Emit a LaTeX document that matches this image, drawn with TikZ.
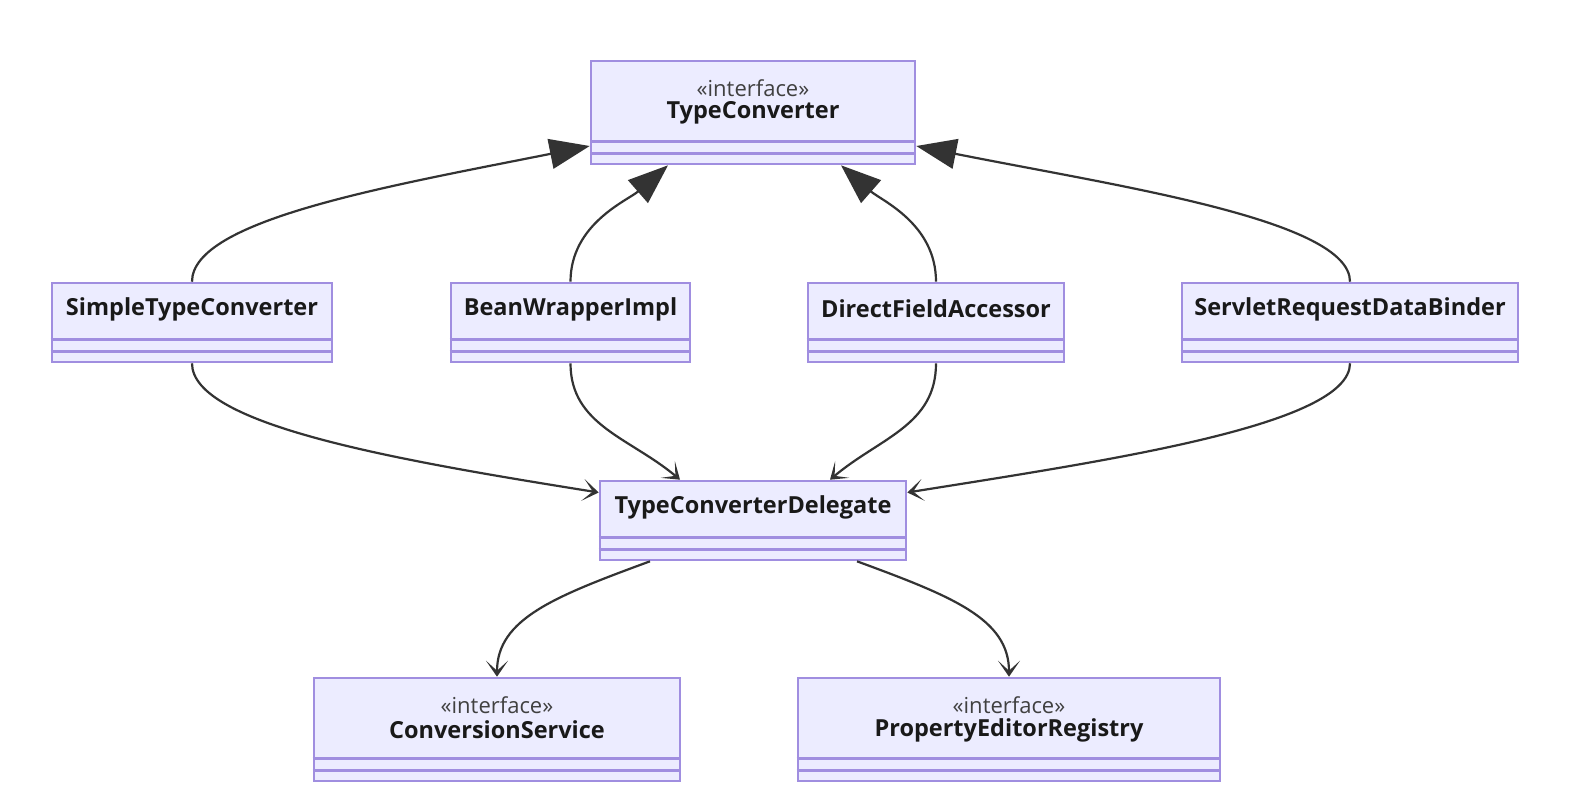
\documentclass[tikz,border=0pt]{standalone}
\usepackage{fontspec}
\setmainfont{Open Sans}
\usetikzlibrary{arrows.meta,calc}
\definecolor{clsfill}{HTML}{ECECFF}
\definecolor{clsdraw}{HTML}{A08EE0}
\definecolor{edge}{HTML}{333333}
\tikzset{
  clsbox/.style={draw=clsdraw,fill=clsfill,line width=2.6pt,rectangle,inner sep=0pt},
  sepline/.style={draw=clsdraw,line width=2.6pt},
  titletext/.style={font=\fontsize{23.5}{26}\selectfont\bfseries,text=black!90,inner sep=0pt},
  stereotext/.style={font=\fontsize{22}{25}\selectfont,text=black!75,inner sep=0pt},
  inherit/.style={draw=edge,line width=2.2pt,-{Triangle[length=40pt,width=30pt]}},
  depend/.style={draw=edge,line width=2.2pt,-{Stealth[length=16pt,width=22pt,inset=10pt]}},
}
% \umlcls{name}{cx}{top}{width}{height}{stereo}{title}{titley}
\newcommand{\umlcls}[8]{%
  \node[clsbox,minimum width=#4pt,minimum height=#5pt] (#1) at (#2,{#3+#5/2}) {};
  \draw[sepline] ($(#1.south west)+(0,-24)$) -- ($(#1.south east)+(0,-24)$);
  \draw[sepline] ($(#1.south west)+(0,-12)$) -- ($(#1.south east)+(0,-12)$);
  \node[titletext] (#1-t) at (#2,#8) {#7};
  \if\relax\detokenize{#6}\relax\else
    \node[stereotext] (#1-s) at (#2,{#8-25}) {#6};
  \fi
}
\begin{document}
\begin{tikzpicture}[x=1pt,y=-1pt]
\useasboundingbox[fill=white] (0,0) rectangle (1574,798);
\umlcls{tc}{753}{61}{324}{103}{«interface»}{TypeConverter}{113}
\umlcls{stc}{192}{283}{280}{79}{}{SimpleTypeConverter}{309}
\umlcls{bwi}{570.5}{283}{239}{79}{}{BeanWrapperImpl}{309}
\umlcls{dfa}{936}{283}{256}{79}{}{DirectFieldAccessor}{309}
\umlcls{srdb}{1350}{283}{336}{79}{}{ServletRequestDataBinder}{309}
\umlcls{tcd}{753}{481}{306}{79}{}{TypeConverterDelegate}{507}
\umlcls{cs}{497}{678}{366}{103}{«interface»}{ConversionService}{730}
\umlcls{per}{1009}{678}{422}{103}{«interface»}{PropertyEditorRegistry}{730}
% inheritance
\draw[inherit] (stc.north) .. controls +(0,-62) and +(-200,40) .. ([yshift=-33.5pt]tc.west);
\draw[inherit] (bwi.north) .. controls +(0,-58) and +(-40,35) .. ([xshift=-85pt]tc.south);
\draw[inherit] (dfa.north) .. controls +(0,-58) and +(40,35) .. ([xshift=88pt]tc.south);
\draw[inherit] (srdb.north) .. controls +(0,-62) and +(200,40) .. ([yshift=-33.5pt]tc.east);
% dependencies
\draw[depend] (stc.south) .. controls +(0,62) and +(-200,-32) .. ([yshift=28pt]tcd.west);
\draw[depend] (bwi.south) .. controls +(0,62) and +(-50,-42) .. ([xshift=-73pt]tcd.north);
\draw[depend] (dfa.south) .. controls +(0,62) and +(50,-42) .. ([xshift=77pt]tcd.north);
\draw[depend] (srdb.south) .. controls +(0,62) and +(200,-32) .. ([yshift=28pt]tcd.east);
\draw[depend] ([xshift=-103pt]tcd.south) .. controls +(-95,35) and +(0,-58) .. (cs.north);
\draw[depend] ([xshift=104pt]tcd.south) .. controls +(95,35) and +(0,-58) .. (per.north);
\end{tikzpicture}
\end{document}
